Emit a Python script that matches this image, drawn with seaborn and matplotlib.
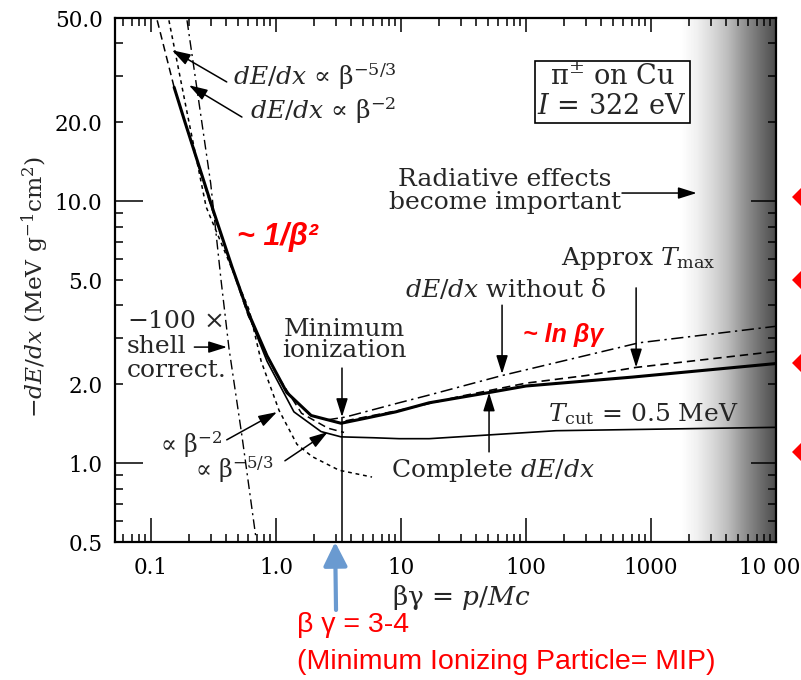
import numpy as np
import matplotlib
matplotlib.use("agg")
import matplotlib.pyplot as plt
import seaborn as sns
from matplotlib.patches import Polygon
from matplotlib.ticker import NullFormatter

# values (beta*gamma, -dE/dx in MeV g^-1 cm^2)
COMPLETE_BG = [0.153, 0.187, 0.308, 0.445, 0.6, 0.847, 1.22, 1.91, 3.31, 5.06, 9.1, 16.8, 50.6, 100, 705, 10000]
COMPLETE = [27.2, 20.0, 9.5, 5.6, 3.75, 2.57, 1.86, 1.52, 1.42, 1.48, 1.57, 1.70, 1.86, 1.97, 2.13, 2.40]

NODELTA_BG = [2.5, 3.6, 9.65, 16.8, 64.3, 802, 10000]
NODELTA = [1.46, 1.50, 1.70, 1.82, 2.16, 2.88, 3.33]

TMAX_BG = [3.6, 9.65, 30, 100, 302, 760, 10000]
TMAX = [1.45, 1.59, 1.80, 2.02, 2.16, 2.32, 2.67]

TCUT_BG = [0.6, 0.847, 1.39, 2.29, 3.31, 6.08, 9.65, 16.8, 174, 10000]
TCUT = [3.7, 2.45, 1.57, 1.32, 1.26, 1.25, 1.24, 1.24, 1.33, 1.37]

BETA53_BG = [0.112, 0.153, 0.308, 0.6, 1.0, 1.6, 2.6, 3.5]
BETA53 = [49.0, 27.2, 9.3, 3.65, 2.2, 1.55, 1.36, 1.31]

BETA2_BG = [0.139, 0.2, 0.276, 0.61, 0.76, 1.057, 1.47, 1.94, 3.19, 5.86]
BETA2 = [49.0, 20.3, 9.5, 3.84, 2.45, 1.59, 1.18, 1.06, 0.94, 0.885]

SHELL_BG = [0.194, 0.30, 0.363, 0.42, 0.535, 0.69]
SHELL = [49.0, 11.7, 5.0, 2.75, 1.26, 0.52]

MIN_BG = 3.37        # minimum ionization
MIN_TIP = 1.50
MIP_BG = 2.97        # blue arrow

X_MAJOR = [0.1, 1, 10, 100, 1000, 10000]
X_LABELS = ["0.1", "1.0", "10", "100", "1000", "10 000"]
Y_MAJOR = [0.5, 1, 2, 5, 10, 20, 50]
Y_LABELS = ["0.5", "1.0", "2.0", "5.0", "10.0", "20.0", "50.0"]

sns.set_style("ticks")
plt.rcParams["font.family"] = ["DejaVu Serif"]
plt.rcParams["mathtext.fontset"] = "dejavuserif"

fig = plt.figure(figsize=(8.01, 6.80), dpi=100)
ax = fig.add_axes([0.1436, 0.2029, 0.8252, 0.7706])
ax.set_xscale("log")
ax.set_yscale("log")

# radiative region shading
grad = np.linspace(0, 1, 256) ** 1.0
ax.imshow(grad[np.newaxis, :], extent=[0.858, 1, 0, 1], transform=ax.transAxes,
          cmap="Greys", vmin=0, vmax=1.3, aspect="auto", zorder=0)


def curve(bg, val, **kw):
    sns.lineplot(x=bg, y=val, ax=ax, color="black", estimator=None,
                 sort=False, legend=False, zorder=3, **kw)


curve(SHELL_BG, SHELL, lw=1.0, linestyle=(0, (7, 3, 1.5, 3)))
curve(BETA2_BG, BETA2, lw=1.1, linestyle=(0, (2.5, 2.5)))
curve(BETA53_BG, BETA53, lw=1.1, linestyle=(0, (5, 3)))
curve(TCUT_BG, TCUT, lw=1.2)
curve(NODELTA_BG, NODELTA, lw=1.1, linestyle=(0, (8, 3, 1.5, 3)))
curve(TMAX_BG, TMAX, lw=1.2, linestyle=(0, (5, 3)))
curve(COMPLETE_BG, COMPLETE, lw=2.2)

ax.set_xlim(0.0515, 10000)
ax.set_ylim(0.5, 50)

# axis ticks
xminor = [k * 10.0 ** e for e in range(-2, 4) for k in range(2, 10)]
yminor = [k * 10.0 ** e for e in range(-1, 2) for k in range(2, 10)]
ax.set_xticks(X_MAJOR, labels=X_LABELS)
ax.set_xticks([v for v in xminor if 0.0515 < v < 10000], minor=True)
ax.set_yticks(Y_MAJOR, labels=Y_LABELS)
ax.set_yticks([v for v in yminor if 0.5 < v < 50], minor=True)
ax.xaxis.set_minor_formatter(NullFormatter())
ax.yaxis.set_minor_formatter(NullFormatter())
ax.tick_params(which="both", direction="in", top=True, right=True, width=1.1,
               labelsize=15.5, colors="black")
ax.tick_params(axis="x", which="major", length=17, pad=11)
ax.tick_params(axis="y", which="major", length=6, pad=9)
ax.tick_params(which="minor", length=6)
for t in ax.xaxis.get_major_ticks():
    t.tick2line.set_markersize(10)
yt = ax.yaxis.get_major_ticks()
for i in (1, 4):
    yt[i].tick1line.set_markersize(20)
    yt[i].tick2line.set_markersize(18)
for s in ax.spines.values():
    s.set_linewidth(1.6)
    s.set_color("black")
    s.set_zorder(5)

fs = 18
arrow = dict(arrowstyle="-|>,head_length=0.7,head_width=0.22", color="black",
             lw=1.1, shrinkA=0, shrinkB=0, mutation_scale=16)

ax.annotate("", xy=(0.147, 37.7), xytext=(0.169, 0.878), textcoords="axes fraction",
            arrowprops=arrow, zorder=6)
ax.annotate("", xy=(0.201, 27.7), xytext=(0.192, 0.811), textcoords="axes fraction",
            arrowprops=arrow, zorder=6)
ax.text(0.1785, 0.889, r"$dE/dx$ ∝ β$^{-5/3}$", transform=ax.transAxes,
        fontsize=fs, ha="left", va="center")
ax.text(0.204, 0.8225, r"$dE/dx$ ∝ β$^{-2}$", transform=ax.transAxes,
        fontsize=fs, ha="left", va="center")

ax.text(0.752, 0.859, "π$^{\\pm}$ on Cu\n$I$ = 322 eV", transform=ax.transAxes,
        fontsize=19.5, ha="center", va="center", linespacing=1.1,
        bbox=dict(boxstyle="square,pad=0.1", fc="white", ec="black", lw=1.2))

ax.text(0.590, 0.6698, "Radiative effects\nbecome important", transform=ax.transAxes,
        fontsize=fs, ha="center", va="center", linespacing=0.98)
ax.annotate("", xy=(0.880, 0.666), xytext=(0.767, 0.666), xycoords="axes fraction",
            arrowprops=arrow, zorder=6)

ax.text(0.791, 0.542, r"Approx $T_{\rm max}$", transform=ax.transAxes,
        fontsize=fs, ha="center", va="center")
ax.annotate("", xy=(760, 2.32), xytext=(760, 0.485), textcoords=("data", "axes fraction"),
            arrowprops=arrow, zorder=6)

ax.text(0.5915, 0.481, r"$dE/dx$ without δ", transform=ax.transAxes,
        fontsize=fs, ha="center", va="center")
ax.annotate("", xy=(64.3, 2.19), xytext=(64.3, 0.452), textcoords=("data", "axes fraction"),
            arrowprops=arrow, zorder=6)

ax.text(0.799, 0.245, r"$T_{\rm cut}$ = 0.5 MeV", transform=ax.transAxes,
        fontsize=fs, ha="center", va="center", zorder=6)

ax.text(0.572, 0.137, r"Complete $dE/dx$", transform=ax.transAxes,
        fontsize=fs, ha="center", va="center")
ax.annotate("", xy=(50.6, 1.86), xytext=(50.6, 0.172), textcoords=("data", "axes fraction"),
            arrowprops=arrow, zorder=6)

ax.text(0.3465, 0.3855, "Minimum\nionization", transform=ax.transAxes,
        fontsize=fs, ha="center", va="center", linespacing=0.92)
ax.annotate("", xy=(MIN_BG, MIN_TIP), xytext=(MIN_BG, 0.332),
            textcoords=("data", "axes fraction"), arrowprops=arrow, zorder=6)
ax.vlines(MIN_BG, 0.5, MIN_TIP, color="black", lw=1.1, zorder=6)

ax.text(0.018, 0.42, r"$-\mathit{100}$ ×", transform=ax.transAxes, fontsize=fs,
        ha="left", va="center")
ax.text(0.018, 0.374, "shell", transform=ax.transAxes, fontsize=fs,
        ha="left", va="center")
ax.text(0.018, 0.328, "correct.", transform=ax.transAxes, fontsize=fs,
        ha="left", va="center")
ax.annotate("", xy=(0.1694, 0.372), xytext=(0.12, 0.372), xycoords="axes fraction",
            arrowprops=arrow, zorder=6)

ax.text(0.115, 0.185, r"∝ β$^{-2}$", transform=ax.transAxes, fontsize=17,
        ha="center", va="center")
ax.annotate("", xy=(0.245, 0.248), xytext=(0.169, 0.195), xycoords="axes fraction",
            arrowprops=arrow, zorder=6)
ax.text(0.18, 0.138, r"∝ β$^{-5/3}$", transform=ax.transAxes, fontsize=17,
        ha="center", va="center")
ax.annotate("", xy=(0.322, 0.210), xytext=(0.257, 0.155), xycoords="axes fraction",
            arrowprops=arrow, zorder=6)

red = "#ff0000"
ax.text(0.245, 0.582, "~ 1/β²", transform=ax.transAxes, fontsize=22, color=red,
        family="Liberation Sans", weight="bold", style="italic", ha="center", va="center")
ax.text(0.678, 0.395, "~ ln βγ", transform=ax.transAxes, fontsize=18, color=red,
        family="Liberation Sans", weight="bold", style="italic", ha="center", va="center")

# axis titles
fig.text(0.0437, 0.578, r"$-dE/dx$ (MeV g$^{-1}$cm$^{2}$)", rotation=90,
         fontsize=16.8, ha="center", va="center")
fig.text(0.5755, 0.122, r"βγ = $p/Mc$", fontsize=19, ha="center", va="center")

# slide overlay: MIP arrow and caption
ax.annotate("", xy=(MIP_BG, 0.5), xytext=(0.4195, 0.103), textcoords="figure fraction",
            annotation_clip=False,
            arrowprops=dict(arrowstyle="-|>,head_length=0.9,head_width=0.45",
                            color="#6a9ad0", lw=3, shrinkA=0, shrinkB=0,
                            mutation_scale=16))
fig.text(0.371, 0.081, "β γ = 3-4", fontsize=20.5, color=red, family="Liberation Sans",
         ha="left", va="center")
fig.text(0.371, 0.0265, "(Minimum Ionizing Particle= MIP)", fontsize=20.5, color=red,
         family="Liberation Sans", ha="left", va="center")

for yc in (197, 280, 363, 452):
    cx, cy = 805.5 / 801, 1 - yc / 680
    hw, hh = 13.5 / 801, 13.5 / 680
    fig.add_artist(Polygon([(cx - hw, cy), (cx, cy + hh), (cx + hw, cy), (cx, cy - hh)],
                           closed=True, transform=fig.transFigure, fc=red, ec="none"))

fig.savefig("out.png", dpi=100)
